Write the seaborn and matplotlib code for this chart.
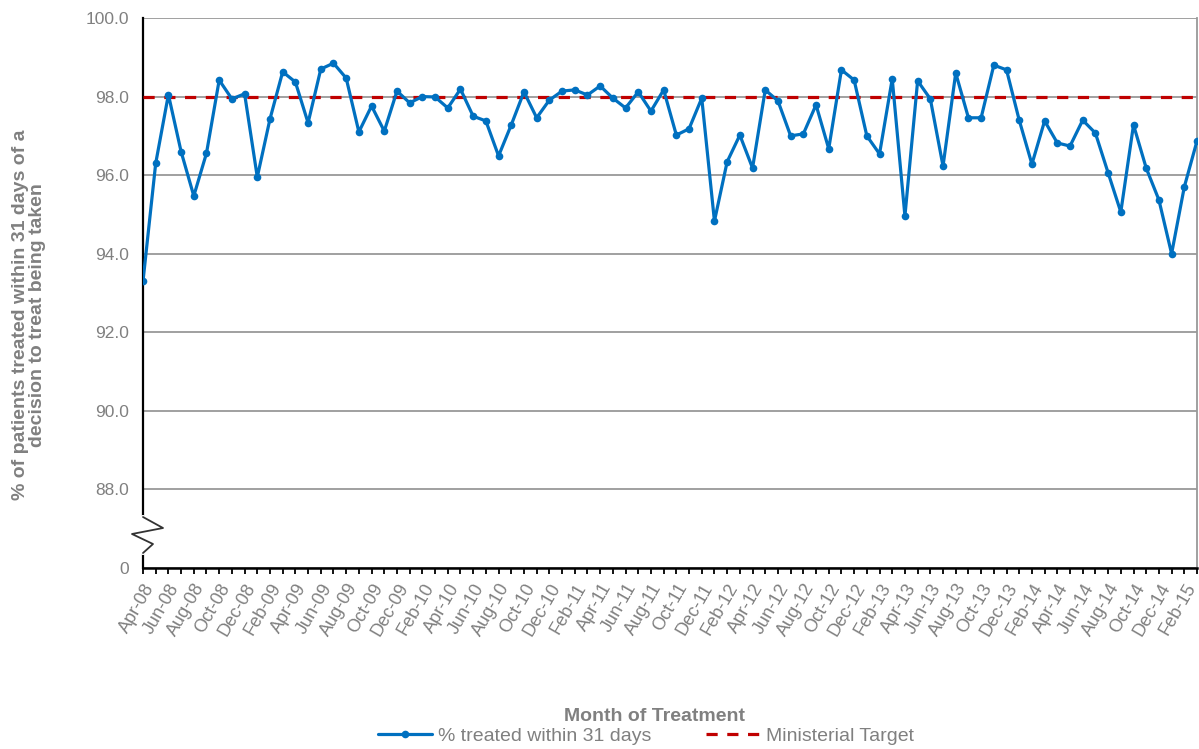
import numpy as np
import pandas as pd
import seaborn as sns
import matplotlib.pyplot as plt
from matplotlib.ticker import MultipleLocator

# Monthly values, Apr-08 .. Mar-15
months = pd.date_range("2008-04-01", periods=84, freq="MS").strftime("%b-%y").tolist()
pct_treated = [
    93.3, 96.3, 98.05, 96.6, 95.47, 96.56, 98.42, 97.94, 98.07, 95.95, 97.43, 98.63,
    98.37, 97.33, 98.70, 98.85, 98.47, 97.10, 97.76, 97.12, 98.14, 97.84, 98.00, 97.99,
    97.71, 98.19, 97.50, 97.38, 96.49, 97.28, 98.12, 97.46, 97.91, 98.14, 98.17, 98.04,
    98.27, 97.96, 97.71, 98.12, 97.63, 98.17, 97.02, 97.18, 97.96, 94.83, 96.34, 97.02,
    96.18, 98.17, 97.89, 97.00, 97.05, 97.79, 96.67, 98.68, 98.42, 97.00, 96.54, 98.45,
    94.96, 98.40, 97.94, 96.23, 98.60, 97.46, 97.46, 98.80, 98.68, 97.40, 96.28, 97.38,
    96.82, 96.74, 97.40, 97.07, 96.06, 95.06, 97.28, 96.18, 95.37, 94.00, 95.70, 96.87,
]
target = 98.0
y_ticks = [86, 88, 90, 92, 94, 96, 98, 100]
y_ticklabels = ["0", "88.0", "90.0", "92.0", "94.0", "96.0", "98.0", "100.0"]

df = pd.DataFrame({"idx": np.arange(len(months)), "month": months,
                   "pct": pct_treated, "target": [target] * len(months)})

sns.set_style("white")
plt.rcParams["font.family"] = ["Liberation Sans", "DejaVu Sans"]
grey = "#808080"

fig = plt.figure(figsize=(11.99, 7.49), dpi=100)
ax = fig.add_axes([143 / 1199, 1 - 568 / 749, 1054 / 1199, 550 / 749])

sns.lineplot(data=df, x="idx", y="pct", ax=ax, color="#0070C0", linewidth=2.3,
             marker="o", markersize=5.5, markeredgewidth=0, label="% treated within 31 days",
             zorder=4)
sns.lineplot(data=df, x="idx", y="target", ax=ax, color="#C00000", linewidth=2.3,
             dashes=(3.5, 3.0), label="Ministerial Target", zorder=3)

ax.set_xlim(0, len(months) - 1)
ax.set_ylim(86, 100)
ax.set_yticks(y_ticks)
ax.set_yticklabels(y_ticklabels)
ax.set_xticks(df["idx"][::2])
ax.set_xticklabels(df["month"][::2], rotation=60, ha="right", rotation_mode="anchor")
ax.xaxis.set_minor_locator(MultipleLocator(1))
ax.tick_params(axis="x", which="both", direction="out", length=4, width=1.3,
               color="black", labelsize=13, labelcolor=grey, pad=5, bottom=True)
ax.tick_params(axis="y", length=0, labelsize=12.5, labelcolor=grey, pad=10)

ax.grid(axis="y", color="#999999", linewidth=1.3)
ax.grid(axis="x", visible=False)
ax.spines["top"].set_visible(False)
ax.spines["left"].set_color("black")
ax.spines["left"].set_linewidth(1.6)
ax.spines["bottom"].set_color("black")
ax.spines["bottom"].set_linewidth(1.8)
ax.spines["right"].set_color("#999999")
ax.spines["right"].set_linewidth(1.3)

ax.set_xlabel("Month of Treatment", fontsize=14, fontweight="bold", color=grey)
ax.xaxis.set_label_coords(0.485, -0.255)
ax.set_ylabel("% of patients treated within 31 days of a\ndecision to treat being taken",
              fontsize=14, fontweight="bold", color=grey, linespacing=1.0)
ax.yaxis.set_label_coords(-0.092, 0.46)

# axis break marker on the left spine
fx = lambda px: px / 1199
fy = lambda py: 1 - py / 749
fig.add_artist(plt.Line2D([fx(143), fx(143)], [fy(517), fy(553)], color="white",
                          linewidth=3, zorder=10))
zig_x = [143, 163, 132, 153, 143]
zig_y = [517, 528, 534, 544, 553]
fig.add_artist(plt.Line2D([fx(v) for v in zig_x], [fy(v) for v in zig_y],
                          color="#333333", linewidth=1.3, zorder=11))

leg = ax.legend(loc="center", bbox_to_anchor=(646 / 1199, 13 / 749),
                bbox_transform=fig.transFigure, ncol=2, frameon=False,
                fontsize=14, handlelength=2.8, columnspacing=2.8, handletextpad=0.3)
for t in leg.get_texts():
    t.set_color(grey)

fig.savefig("out.png", dpi=100)
